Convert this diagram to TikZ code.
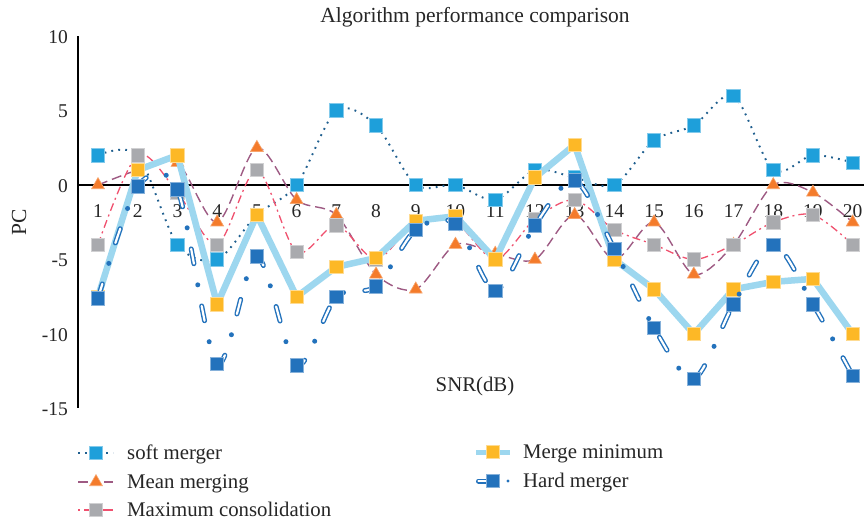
\documentclass[tikz,border=0pt]{standalone}
\usepackage{fontspec}
\setmainfont{Liberation Serif}
\usetikzlibrary{plotmarks}

\definecolor{softfill}{HTML}{1E9FDA}
\definecolor{softline}{HTML}{1F5F8F}
\definecolor{meanfill}{HTML}{F47B2B}
\definecolor{meanline}{HTML}{9E5A83}
\definecolor{maxfill}{HTML}{A9AAAE}
\definecolor{maxline}{HTML}{F0506E}
\definecolor{minfill}{HTML}{FDB826}
\definecolor{minline}{HTML}{9DD7EF}
\definecolor{hardfill}{HTML}{2372BC}
\definecolor{txt}{HTML}{262626}

\tikzset{
  softcurve/.style={softline, line width=1.9pt, dash pattern=on 1.8pt off 5.2pt},
  meancurve/.style={meanline, line width=1.4pt, dash pattern=on 10pt off 5pt},
  maxcurve/.style={maxline, line width=1.3pt, dash pattern=on 8pt off 4pt on 2pt off 4pt},
  mincurve/.style={minline, line width=6.5pt, line join=round, line cap=round},
  hardouter/.style={hardfill, line width=5pt, line cap=round, dash pattern=on 15pt off 21.5pt on 0pt off 21.5pt},
  hardinner/.style={white, line width=2.2pt, line cap=round, dash pattern=on 15pt off 43pt},
  softmark/.style={mark=square*, mark size=6.7pt, mark options={solid, fill=softfill, draw=softfill!55!white, line width=0.8pt}},
  meanmark/.style={mark=triangle*, mark size=7.4pt, mark options={solid, fill=meanfill, draw=meanfill!70!white, line width=0.6pt}},
  maxmark/.style={mark=square*, mark size=6.7pt, mark options={solid, fill=maxfill, draw=maxfill!55!white, line width=0.8pt}},
  minmark/.style={mark=square*, mark size=6.7pt, mark options={solid, fill=minfill, draw=minfill!50!white, line width=0.8pt}},
  hardmark/.style={mark=square*, mark size=6.7pt, mark options={solid, fill=hardfill, draw=hardfill!55!white, line width=0.8pt}},
  ticklab/.style={text=txt, font=\fontsize{19.5}{22}\selectfont, inner sep=0pt},
  labtext/.style={text=txt, font=\fontsize{20.8}{24}\selectfont, inner sep=0pt},
}

\begin{document}
\begin{tikzpicture}[x=1pt,y=1pt]
\useasboundingbox (0,0) rectangle (864,-522);
\fill[white] (0,0) rectangle (864,-522);

% title
\node[labtext, anchor=base, font=\fontsize{21.5}{24}\selectfont] (title) at (475,-22) {Algorithm performance comparison};

% axes
\draw[black, line width=1.3pt] (78,-36) -- (78,-408);
\draw[black, line width=1.3pt] (78,-185) -- (864,-185);

% value labels on the vertical axis
\foreach \v in {10,5,0,-5,-10,-15}
  \node[ticklab, anchor=base east] (yt\v) at (68,{-185+14.9*\v-7}) {\v};

% axis titles
\node[labtext, anchor=base] (xtitle) at (475,-391) {SNR(dB)};
\node[labtext, rotate=90, font=\fontsize{21.5}{24}\selectfont] (ytitle) at (19,-222) {PC};

\begin{scope}[shift={(58.28pt,-185pt)}, x=39.72pt, y=14.9pt]
  % category labels
  \foreach \i in {1,...,20}
    \node[ticklab, anchor=base] (xt\i) at (\i,-2.15) {\i};

  % soft merger
  \draw[softcurve] plot[smooth, tension=0.5, softmark] coordinates {
    (1,2) (2,2) (3,-4) (4,-5) (5,-2) (6,0) (7,5) (8,4) (9,0) (10,0)
    (11,-1) (12,1) (13,0.5) (14,0) (15,3) (16,4) (17,6) (18,1) (19,2) (20,1.5)};

  % mean merging
  \draw[meancurve] plot[smooth, tension=0.5, meanmark] coordinates {
    (1,0) (2,1) (3,1.5) (4,-2.5) (5,2.5) (6,-1) (7,-2) (8,-6) (9,-7) (10,-4)
    (11,-4.6) (12,-5) (13,-2) (14,-5) (15,-2.5) (16,-6) (17,-4) (18,0) (19,-0.5) (20,-2.5)};

  % maximum consolidation
  \draw[maxcurve] plot[smooth, tension=0.5, maxmark] coordinates {
    (1,-4) (2,2) (3,-0.5) (4,-4) (5,1) (6,-4.5) (7,-2.7) (8,-5) (9,-2.5) (10,-2.5)
    (11,-5) (12,-2.3) (13,-1) (14,-3) (15,-4) (16,-5) (17,-4) (18,-2.5) (19,-2) (20,-4)};

  % merge minimum
  \draw[mincurve] plot[minmark] coordinates {
    (1,-7.5) (2,1) (3,2) (4,-8) (5,-2) (6,-7.5) (7,-5.5) (8,-4.9) (9,-2.4) (10,-2.1)
    (11,-5) (12,0.5) (13,2.7) (14,-5) (15,-7) (16,-10) (17,-7) (18,-6.5) (19,-6.3) (20,-10)};

  % hard merger: hollow dashes with solid dots, then the markers
  \draw[hardouter] plot[smooth, tension=0.5] coordinates {
    (1,-7.6) (2,-0.1) (3,-0.3) (4,-12) (5,-4.8) (6,-12.1) (7,-7.5) (8,-6.8) (9,-3) (10,-2.6)
    (11,-7.1) (12,-2.7) (13,0.3) (14,-4.3) (15,-9.6) (16,-13) (17,-8) (18,-4) (19,-8) (20,-12.8)};
  \draw[hardinner] plot[smooth, tension=0.5] coordinates {
    (1,-7.6) (2,-0.1) (3,-0.3) (4,-12) (5,-4.8) (6,-12.1) (7,-7.5) (8,-6.8) (9,-3) (10,-2.6)
    (11,-7.1) (12,-2.7) (13,0.3) (14,-4.3) (15,-9.6) (16,-13) (17,-8) (18,-4) (19,-8) (20,-12.8)};
  \path plot[only marks, hardmark] coordinates {
    (1,-7.6) (2,-0.1) (3,-0.3) (4,-12) (5,-4.8) (6,-12.1) (7,-7.5) (8,-6.8) (9,-3) (10,-2.6)
    (11,-7.1) (12,-2.7) (13,0.3) (14,-4.3) (15,-9.6) (16,-13) (17,-8) (18,-4) (19,-8) (20,-12.8)};
\end{scope}

% legend
\coordinate (l1a) at (78,-453);  \coordinate (l1b) at (113,-453);
\draw[softcurve] (l1a) -- (l1b);
\path plot[only marks, softmark] coordinates {(96,-453)};
\node[labtext, anchor=base west] (leg1) at (127,-459) {soft merger};

\coordinate (l2a) at (78,-482);  \coordinate (l2b) at (88,-482);
\coordinate (l2c) at (104,-482); \coordinate (l2d) at (113,-482);
\draw[meanline, line width=1.4pt] (l2a) -- (l2b) (l2c) -- (l2d);
\path plot[only marks, meanmark] coordinates {(96,-482)};
\node[labtext, anchor=base west] (leg2) at (127,-488) {Mean merging};

\coordinate (l3a) at (78,-510);  \coordinate (l3b) at (80,-510);
\coordinate (l3c) at (84,-510);  \coordinate (l3d) at (92,-510);
\coordinate (l3e) at (102,-510); \coordinate (l3f) at (113,-510);
\draw[maxline, line width=1.3pt] (l3a) -- (l3b) (l3c) -- (l3d) (l3e) -- (l3f);
\path plot[only marks, maxmark] coordinates {(96,-510)};
\node[labtext, anchor=base west] (leg3) at (127,-516) {Maximum consolidation};

\coordinate (l4a) at (476,-452); \coordinate (l4b) at (510,-452);
\draw[minline, line width=5pt] (l4a) -- (l4b);
\path plot[only marks, minmark] coordinates {(493,-452)};
\node[labtext, anchor=base west] (leg4) at (523,-458) {Merge minimum};

\coordinate (l5a) at (478.5,-481); \coordinate (l5b) at (488,-481);
\coordinate (l5c) at (508,-481);
\draw[hardfill, line width=5pt, line cap=round] (l5a) -- (l5b);
\draw[white, line width=2.2pt, line cap=round] (l5a) -- (l5b);
\fill[hardfill] (l5c) circle (1.7pt);
\path plot[only marks, hardmark] coordinates {(493,-481)};
\node[labtext, anchor=base west] (leg5) at (523,-487) {Hard merger};
\end{tikzpicture}
\end{document}
